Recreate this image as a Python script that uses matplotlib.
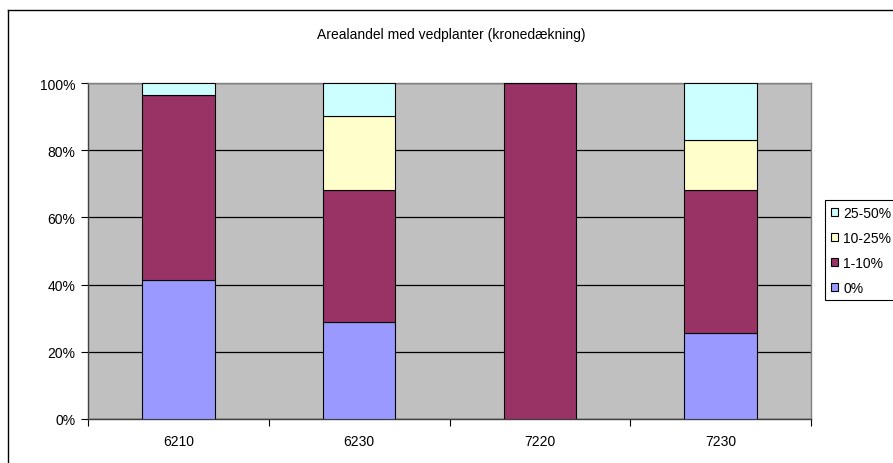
import matplotlib
matplotlib.use("Agg")
import matplotlib.pyplot as plt
from matplotlib.lines import Line2D
import numpy as np

plt.rcParams['font.family'] = ['Liberation Sans', 'DejaVu Sans']

# data (percent of area)
categories = ['6210', '6230', '7220', '7230']
series_names = ['0%', '1-10%', '10-25%', '25-50%']
pct_0 = [41.3, 28.9, 0.0, 25.7]
pct_1_10 = [55.2, 39.2, 100.0, 42.4]
pct_10_25 = [0.0, 22.2, 0.0, 15.0]
pct_25_50 = [3.5, 9.7, 0.0, 16.9]
colors = ['#9999FF', '#993366', '#FFFFCC', '#CCFFFF']

W, H = 893, 464
fig = plt.figure(figsize=(W / 100, H / 100), dpi=100)
fig.patch.set_facecolor('white')

# outer chart border (cropped on right and bottom)
fig.add_artist(Line2D([8 / W, 8 / W], [0, 1 - 11 / H], color='black', lw=1.0, transform=fig.transFigure))
fig.add_artist(Line2D([8 / W, 1], [1 - 11 / H, 1 - 11 / H], color='black', lw=1.0, transform=fig.transFigure))

left, right, top, bottom = 88, 811, 84, 420
ax = fig.add_axes([left / W, 1 - bottom / H, (right - left) / W, (bottom - top) / H])
ax.set_facecolor('#C0C0C0')

x = np.arange(len(categories))
stack = [pct_0, pct_1_10, pct_10_25, pct_25_50]
base = np.zeros(len(categories))
handles = []
for name, vals, col in zip(series_names, stack, colors):
    vals = np.array(vals)
    b = ax.bar(x, vals, 0.4, bottom=base, color=col, edgecolor='black', linewidth=0.8,
               label=name, zorder=3)
    handles.append(b)
    base = base + vals

ax.set_xlim(-0.5, len(categories) - 0.5)
ax.set_ylim(0, 100)
ax.set_yticks([0, 20, 40, 60, 80, 100])
ax.set_yticklabels(['0%', '20%', '40%', '60%', '80%', '100%'])
ax.yaxis.grid(True, color='black', linewidth=0.9, zorder=1)
ax.set_axisbelow(True)

# category labels centred, tick marks between categories
ax.set_xticks(x)
ax.set_xticklabels(categories)
ax.set_xticks(np.arange(-0.5, len(categories), 1.0), minor=True)
ax.tick_params(axis='x', which='major', length=0, pad=11, labelsize=10)
ax.tick_params(axis='x', which='minor', length=5, width=0.8, direction='out')
ax.tick_params(axis='y', length=5, width=0.8, direction='out', pad=4, labelsize=10)

for side in ['top', 'right']:
    ax.spines[side].set_color('#808080')
    ax.spines[side].set_linewidth(1.0)
for side in ['left', 'bottom']:
    ax.spines[side].set_color('#404040')
    ax.spines[side].set_linewidth(1.0)

fig.text(451 / W, 1 - 35 / H, 'Arealandel med vedplanter (kronedækning)', ha='center', va='center',
         fontsize=10)

leg = fig.legend(handles[::-1], series_names[::-1], loc='upper left',
                 bbox_to_anchor=(825 / W, 1 - 201 / H), fontsize=10, frameon=True,
                 fancybox=False, edgecolor='black', framealpha=1, borderaxespad=0,
                 handlelength=0.5, handleheight=0.5, handletextpad=0.4, labelspacing=0.8,
                 borderpad=0.4)
leg.get_frame().set_linewidth(0.8)

fig.savefig('out.png', dpi=100)
